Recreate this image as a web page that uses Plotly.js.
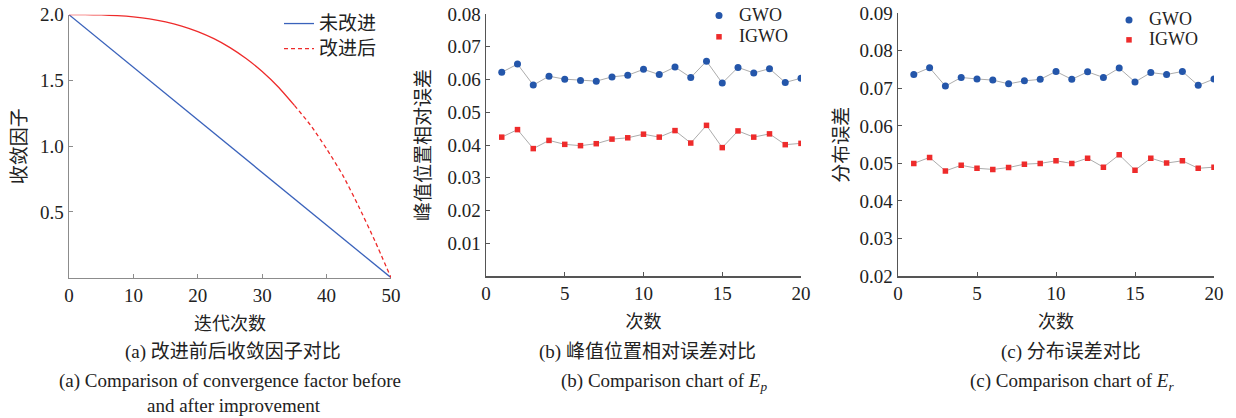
<!DOCTYPE html>
<html>
<head>
<meta charset="utf-8">
<script src="https://cdn.plot.ly/plotly-3.0.1.min.js"></script>
<style>html,body{margin:0;padding:0;background:#fff;}#chart{width:1236px;height:418px;}</style>
</head>
<body>
<div id="chart"></div>
<script>
// ---- Panel (a): convergence factor ----
const iterA = [0, 2.5, 5, 7.5, 10, 12.5, 15, 17.5, 20, 22.5, 25, 27.5, 30, 32.5, 35, 37.5, 40, 42.5, 45, 47.5, 50];
const factorOriginal = [2.0, 1.9, 1.8, 1.7, 1.6, 1.5, 1.4, 1.3, 1.2, 1.1, 1.0, 0.9, 0.8, 0.7, 0.6, 0.5, 0.4, 0.3, 0.2, 0.1, 0.0];
const factorImproved = [2.0, 2.0, 1.998, 1.993, 1.984, 1.969, 1.946, 1.914, 1.872, 1.818, 1.75, 1.667, 1.568, 1.45, 1.31, 1.16, 0.98, 0.78, 0.54, 0.28, 0.0];
const solidEnd = 14; // index (t = 35) where the improved curve turns dashed

// ---- Panels (b), (c): runs ----
const runs = [1,2,3,4,5,6,7,8,9,10,11,12,13,14,15,16,17,18,19,20];
const epGWO  = [0.0622,0.0647,0.0583,0.0610,0.0601,0.0597,0.0595,0.0608,0.0613,0.0631,0.0615,0.0638,0.0606,0.0656,0.0589,0.0637,0.0620,0.0633,0.0591,0.0604];
const epIGWO = [0.0424,0.0447,0.0389,0.0414,0.0402,0.0398,0.0404,0.0418,0.0422,0.0433,0.0424,0.0444,0.0406,0.0460,0.0392,0.0443,0.0424,0.0434,0.0401,0.0405];
const erGWO  = [0.0737,0.0755,0.0706,0.0729,0.0725,0.0722,0.0712,0.0720,0.0724,0.0745,0.0724,0.0744,0.0729,0.0754,0.0717,0.0742,0.0737,0.0745,0.0708,0.0725];
const erIGWO = [0.0500,0.0516,0.0480,0.0495,0.0487,0.0484,0.0489,0.0498,0.0500,0.0507,0.0500,0.0514,0.0490,0.0523,0.0482,0.0514,0.0501,0.0507,0.0487,0.0490];

const W = 1236, H = 418;
const px = v => v / W;
const py = v => 1 - v / H;

const serif = '"Liberation Serif", "Times New Roman", serif';
const cjk = '"Noto Sans CJK SC", sans-serif';
const capFont = '"Liberation Serif", "Noto Sans CJK SC", serif';
const blue = '#2456aa', red = '#ee2b2b', gray = '#acacac';
const big = s => '<span style="font-size:' + s + 'px">';

const traces = [
  {x: iterA, y: factorOriginal, xaxis: 'x', yaxis: 'y', mode: 'lines', name: big(19) + '未改进</span>',
   line: {color: '#3a62bb', width: 1.3}, legend: 'legend'},
  {x: iterA.slice(0, solidEnd + 1), y: factorImproved.slice(0, solidEnd + 1), xaxis: 'x', yaxis: 'y', mode: 'lines',
   name: '改进后', showlegend: false, line: {color: red, width: 1.3, shape: 'spline', smoothing: 0.6}},
  {x: iterA.slice(solidEnd), y: factorImproved.slice(solidEnd), xaxis: 'x', yaxis: 'y', mode: 'lines',
   name: big(19) + '改进后</span>', line: {color: red, width: 1.3, dash: '4px,3px', shape: 'spline', smoothing: 0.6}, legend: 'legend'},

  {x: runs, y: epGWO, xaxis: 'x2', yaxis: 'y2', mode: 'lines', showlegend: false, line: {color: gray, width: 1}},
  {x: runs, y: epIGWO, xaxis: 'x2', yaxis: 'y2', mode: 'lines', showlegend: false, line: {color: gray, width: 1}},
  {x: runs, y: epGWO, xaxis: 'x2', yaxis: 'y2', mode: 'markers', name: big(18) + 'GWO</span>',
   marker: {color: blue, size: 7, symbol: 'circle'}, legend: 'legend2'},
  {x: runs, y: epIGWO, xaxis: 'x2', yaxis: 'y2', mode: 'markers', name: big(18) + 'IGWO</span>',
   marker: {color: red, size: 5.5, symbol: 'square'}, legend: 'legend2'},

  {x: runs, y: erGWO, xaxis: 'x3', yaxis: 'y3', mode: 'lines', showlegend: false, line: {color: gray, width: 1}},
  {x: runs, y: erIGWO, xaxis: 'x3', yaxis: 'y3', mode: 'lines', showlegend: false, line: {color: gray, width: 1}},
  {x: runs, y: erGWO, xaxis: 'x3', yaxis: 'y3', mode: 'markers', name: big(18) + 'GWO</span>',
   marker: {color: blue, size: 7, symbol: 'circle'}, legend: 'legend3'},
  {x: runs, y: erIGWO, xaxis: 'x3', yaxis: 'y3', mode: 'markers', name: big(18) + 'IGWO</span>',
   marker: {color: red, size: 5.5, symbol: 'square'}, legend: 'legend3'}
];

function xax(domain, range, dtick, title, lineColor, anchor) {
  return {domain: domain, range: range, dtick: dtick, tick0: 0, showgrid: false, zeroline: false, anchor: anchor,
    showline: true, linecolor: lineColor, linewidth: 1.5, ticks: 'inside', ticklen: 4, tickcolor: lineColor,
    tickfont: {family: serif, size: 19, color: '#222'}, fixedrange: true,
    title: {text: title, font: {family: cjk, size: 18, color: '#222'}, standoff: 12}};
}
function yax(domain, range, tickvals, fmt, title, lineColor, standoff, anchor) {
  return {domain: domain, range: range, tickvals: tickvals, tickformat: fmt, showgrid: false, zeroline: false,
    showline: true, linecolor: lineColor, linewidth: 1.5, ticks: 'inside', ticklen: 4, tickcolor: lineColor,
    tickfont: {family: serif, size: 19, color: '#222'}, anchor: anchor, fixedrange: true,
    title: {text: title, font: {family: cjk, size: 19, color: '#222'}, standoff: standoff}};
}
function cap(text, x, y, fam) {
  return {text: text, x: px(x), y: py(y), xref: 'paper', yref: 'paper', xanchor: 'center', yanchor: 'middle',
    showarrow: false, font: {family: fam, size: 19, color: '#222'}};
}

const layout = {
  width: W, height: H,
  margin: {l: 0, r: 0, t: 0, b: 0},
  paper_bgcolor: '#fff', plot_bgcolor: '#fff',
  font: {family: serif, size: 19, color: '#222'},
  showlegend: true,
  xaxis: xax([px(69), px(391)], [0, 50], 10, '迭代次数', '#8c8c8c', 'y'),
  yaxis: yax([py(277.7), py(14.7)], [0, 2], [0.5, 1.0, 1.5, 2.0], '.1f', '收敛因子', '#8c8c8c', 8, 'x'),
  xaxis2: xax([px(486), px(801)], [0, 20], 5, '次数', '#555', 'y2'),
  yaxis2: yax([py(276), py(14)], [0, 0.08], [0.01,0.02,0.03,0.04,0.05,0.06,0.07,0.08], '.2f', '峰值位置相对误差', '#555', 12, 'x2'),
  xaxis3: xax([px(898), px(1214)], [0, 20], 5, '次数', '#555', 'y3'),
  yaxis3: yax([py(276), py(13.3)], [0.02, 0.09], [0.02,0.03,0.04,0.05,0.06,0.07,0.08,0.09], '.2f', '分布误差', '#555', 6, 'x3'),
  legend: {x: px(382), y: py(6), xanchor: 'right', yanchor: 'top', bgcolor: 'rgba(0,0,0,0)',
    font: {family: cjk, size: 17, color: '#222'}, itemwidth: 30},
  legend2: {x: px(793), y: py(0), xanchor: 'right', yanchor: 'top', bgcolor: 'rgba(0,0,0,0)',
    font: {family: serif, size: 14, color: '#222'}, itemwidth: 30},
  legend3: {x: px(1203), y: py(5), xanchor: 'right', yanchor: 'top', bgcolor: 'rgba(0,0,0,0)',
    font: {family: serif, size: 13, color: '#222'}, itemwidth: 30},
  annotations: [
    cap('(a) 改进前后收敛因子对比', 233, 352, capFont),
    cap('(a) Comparison of convergence factor before', 230, 381, serif),
    cap('and after improvement', 234, 405, serif),
    cap('(b) 峰值位置相对误差对比', 647, 352, capFont),
    cap('(b) Comparison chart of <i>E</i><sub><i>p</i></sub>', 664, 382, serif),
    cap('(c) 分布误差对比', 1071, 352, capFont),
    cap('(c) Comparison chart of <i>E</i><sub><i>r</i></sub>', 1072, 382, serif)
  ]
};

Plotly.newPlot('chart', traces, layout, {displayModeBar: false, staticPlot: true});
</script>
</body>
</html>
